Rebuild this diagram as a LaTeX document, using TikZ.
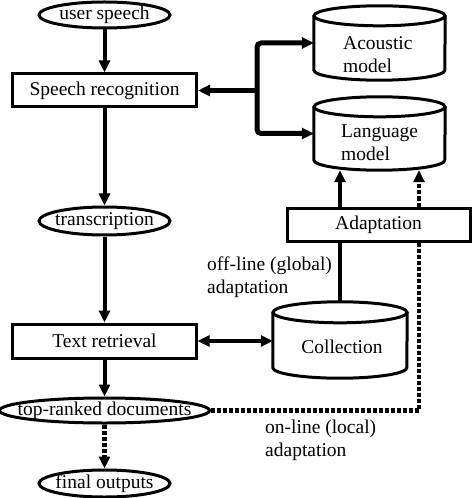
\documentclass[tikz,border=0pt]{standalone}
\usepackage{fontspec}
\setmainfont{Liberation Serif}
\usetikzlibrary{arrows.meta,shapes.geometric,calc}
\newcommand\drawcyl[3]{%
  \draw[cylline] ($(#1.north west)+(0,#3)$) -- ($(#1.south west)+(0,-#3)$)
    arc[start angle=180, end angle=360, x radius=#2bp, y radius=#3bp]
    -- ($(#1.north east)+(0,#3)$);
  \draw[cylline] ($(#1.north)+(0,#3)$) ellipse[x radius=#2bp, y radius=#3bp];
}
\begin{document}
\begin{tikzpicture}[x=1bp,y=-1bp,
  every node/.style={font=\fontsize{19.5bp}{23bp}\selectfont},
  box/.style={draw, line width=3bp, inner sep=0pt},
  oval/.style={draw, ellipse, line width=3bp, inner sep=0pt},
  cylarea/.style={inner sep=0pt},
  cylline/.style={line width=3bp},
  txt/.style={inner sep=0pt, align=left},
  tip/.style={-{Triangle[length=12bp,width=11bp]}},
  flow/.style={line width=4bp, tip},
  plain/.style={line width=4bp},
  dotline/.style={line width=4.5bp, dash pattern=on 4bp off 2bp},
  bracket/.style={line width=5bp, rounded corners=4bp,
    {Triangle[length=12bp,width=11bp]}-{Triangle[length=12bp,width=11bp]}},
]
\useasboundingbox (0,0) rectangle (472,498);

% left column
\node[oval, minimum width=131bp, minimum height=26bp] (us) at (104.5,15) {\makebox[0pt]{user speech}};
\node[box, minimum width=184bp, minimum height=33bp] (sr) at (104.5,90.5) {Speech recognition};
\node[oval, minimum width=131bp, minimum height=28bp] (tr) at (104.5,221) {\makebox[0pt]{transcription}};
\node[box, minimum width=183bp, minimum height=34bp] (tx) at (104.5,341) {Text retrieval};
\node[oval, minimum width=210bp, minimum height=25bp] (trd) at (104.5,410.5) {\makebox[0pt]{top-ranked documents}};
\node[oval, minimum width=131bp, minimum height=27bp] (fo) at (104.5,483.5) {\makebox[0pt]{final outputs}};

% right column
\node[cylarea, minimum width=131bp, minimum height=74bp] (am) at (379.5,43) {};
\drawcyl{am}{65.5}{10}
\node[txt, anchor=north west] (amtxt) at (343,36) {Acoustic\\model};

\node[cylarea, minimum width=131bp, minimum height=73bp] (lm) at (379.5,133.5) {};
\drawcyl{lm}{65.5}{10}
\node[txt, anchor=north west] (lmtxt) at (341,125) {Language\\model};

\node[box, minimum width=183bp, minimum height=33bp] (ad) at (378.5,224.5) {Adaptation};

\node[cylarea, minimum width=134bp, minimum height=76bp] (co) at (340,340) {};
\drawcyl{co}{67}{10.5}
\node[inner sep=0pt, anchor=base] (cotxt) at (342,353) {Collection};

% labels
\node[txt, anchor=north west] (offl) at (207,257) {off-line (global)\\adaptation};
\node[txt, anchor=north west] (onl) at (265,420) {on-line (local)\\adaptation};

% connectors
\draw[flow] (us) -- (sr);
\draw[flow] (sr) -- (tr);
\draw[flow] (tr) -- (tx);
\draw[flow] (tx) -- (trd);
\draw[dotline, tip] (trd) -- (fo);

\coordinate (jn) at (257,90.5);
\draw[bracket] (am.west) -- (am.west -| jn) -- (lm.west -| jn) -- (lm.west);
\draw[line width=5bp, tip] (jn) -- (sr.east);

\draw[line width=4.5bp, {Triangle[length=12bp,width=11bp]}-{Triangle[length=12bp,width=11bp]}]
  (tx.east) -- (tx.east -| co.west);

\draw[plain] (co.north) -- (co.north |- ad.south);
\draw[flow] (ad.north -| co.north) -- (lm.south -| co.north);

\coordinate (cr) at (419,410.5);
\draw[dotline] (ad.south -| cr) -- (cr) -- (trd.east);
\draw[dotline, tip] (ad.north -| cr) -- (lm.south -| cr);
\end{tikzpicture}
\end{document}
